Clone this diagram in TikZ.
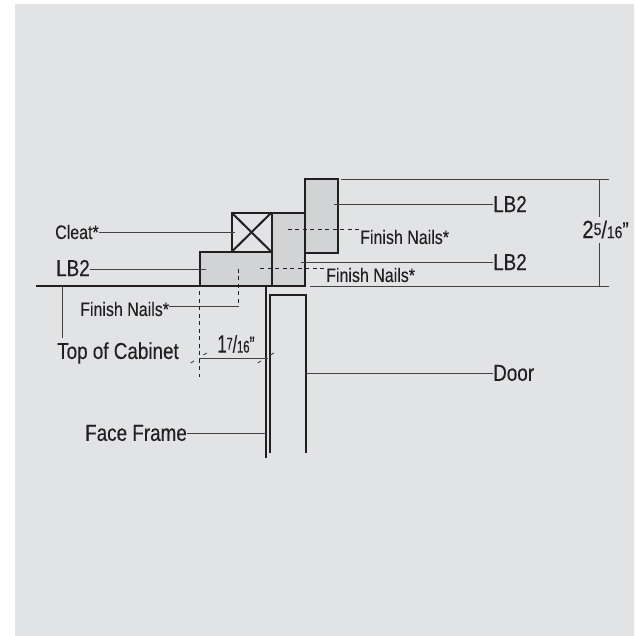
\documentclass[tikz,border=0pt]{standalone}
\usepackage{fontspec}
\setmainfont[FakeStretch=0.82,FakeBold=0.25]{Liberation Sans}
\usepackage{tikz}
\usetikzlibrary{arrows, calc, positioning}
\definecolor{panel}{HTML}{E2E3E5}
\definecolor{lumber}{HTML}{D2D3D5}
\definecolor{ink}{HTML}{231F20}
\tikzstyle{board} = [rectangle, line width=2pt, draw=ink, outer sep=0pt, inner sep=0pt]
\tikzstyle{leader} = [line width=0.9pt, draw=ink!85!white]
\tikzstyle{hidden} = [line width=0.9pt, draw=ink, dash pattern=on 4pt off 3.5pt]
\tikzstyle{heavy} = [line width=2pt, draw=ink]
\tikzstyle{big} = [inner sep=0pt, text=ink, font=\fontsize{23}{23}\selectfont]
\tikzstyle{small} = [inner sep=0pt, text=ink, font=\fontsize{19.5}{20}\selectfont]
\newcommand{\dimfrac}[3]{{\fontsize{25}{25}\selectfont #1}\raisebox{3pt}{\fontsize{17}{17}\selectfont #2}{\fontsize{24}{24}\selectfont /}{\fontsize{17}{17}\selectfont #3}"}

\begin{document}
\begin{tikzpicture}[x=1pt, y=-1pt]
		\useasboundingbox (0,0) rectangle (634,636);
		\fill [panel] (15,4) rectangle (634,636);
		% lumber
		\node (TopBoard) [board, fill=lumber, minimum width=33pt, minimum height=73pt, anchor=north west] at (304.5,179.5) {};
		\node (MidBoard) [board, fill=lumber, minimum width=33pt, minimum height=73.5pt, anchor=north west] at (271.5,212.5) {};
		\node (LowBoard) [board, fill=lumber, minimum width=72pt, minimum height=34pt, anchor=north west] at (199.5,252) {};
		\node (Cleat) [board, minimum width=40pt, minimum height=39.5pt, anchor=north west] at (231.5,212.5) {};
		\draw [heavy] (Cleat.north west) -- (Cleat.south east);
		\draw [heavy] (Cleat.north east) -- (Cleat.south west);
		% cabinet and door
		\coordinate (TopLeft) at (36,286);
		\coordinate (TopCorner) at (265.7,286);
		\coordinate (FrameEnd) at (265.7,458);
		\coordinate (DoorTopLeft) at (269.5,295);
		\coordinate (DoorTopRight) at (305.5,295);
		\coordinate (DoorEndLeft) at (269.5,453);
		\coordinate (DoorEndRight) at (305.5,453);
		\draw [heavy] (TopLeft) -- (TopCorner) -- (FrameEnd);
		\draw [heavy] (DoorEndLeft) -- (DoorTopLeft) -- (DoorTopRight) -- (DoorEndRight);
		% labels
		\node (CleatLabel) [small, anchor=west] at (55,232) {Cleat*};
		\node (LeftLB) [big, anchor=west] at (56,268) {LB2};
		\node (TopLB) [big, anchor=west] at (493,204) {LB2};
		\node (MidLB) [big, anchor=west] at (493,262) {LB2};
		\node (UpperNails) [small, anchor=west] at (360,237) {Finish Nails*};
		\node (MidNails) [small, anchor=west] at (326,275) {Finish Nails*};
		\node (LowNails) [small, anchor=west] at (80,309) {Finish Nails*};
		\node (CabinetLabel) [big, anchor=west] at (57,353) {Top of Cabinet};
		\node (FrameLabel) [big, anchor=west] at (85,433) {Face Frame};
		\node (DoorLabel) [big, anchor=west] at (493,373) {Door};
		\node (DimWide) [big, anchor=center] at (236,344) {\scalebox{0.8}[1]{\dimfrac{1}{7}{16}}};
		\node (DimTall) [big, anchor=center] at (605.5,229.5) {\dimfrac{2}{5}{16}};
		% leaders
		\coordinate (CleatEnd) at (234.5,232);
		\coordinate (LeftLBEnd) at (205.5,269.5);
		\coordinate (TopLBEnd) at (334,204);
		\coordinate (MidLBEnd) at (300.5,262);
		\coordinate (CabinetTop) at (62.7,286);
		\coordinate (CabinetEnd) at (62.7,338);
		\coordinate (FrameMark) at (265.7,433.5);
		\coordinate (DoorMark) at (305.5,373);
		\draw [leader] (CleatEnd -| CleatLabel.east) -- (CleatEnd);
		\draw [leader] (LeftLBEnd -| LeftLB.east) -- (LeftLBEnd);
		\draw [leader] (TopLBEnd -| TopLB.west) -- (TopLBEnd);
		\draw [leader] (MidLBEnd -| MidLB.west) -- (MidLBEnd);
		\draw [leader] (CabinetTop) -- (CabinetEnd);
		\draw [leader] (FrameMark -| FrameLabel.east) -- (FrameMark);
		\draw [leader] (DoorMark -| DoorLabel.west) -- (DoorMark);
		% nails
		\coordinate (UpperStart) at (287.5,229.5);
		\coordinate (UpperEnd) at (360,229.5);
		\coordinate (MidStart) at (260,268.5);
		\coordinate (MidEnd) at (325,268.5);
		\coordinate (LowStart) at (238.5,268.5);
		\coordinate (LowEnd) at (238.5,306.7);
		\draw [hidden] (UpperStart) -- (UpperEnd);
		\draw [hidden] (MidStart) -- (MidEnd);
		\draw [hidden] (LowStart) -- (LowEnd);
		\draw [leader] (LowEnd -| LowNails.east) -- (LowEnd);
		% dimensions
		\coordinate (WideLeft) at (199.3,358);
		\coordinate (WideRight) at (268,358);
		\draw [hidden] (199.3,291) -- (199.3,377);
		\draw [leader] (WideLeft) -- (WideRight);
		\draw [leader, dash pattern=on 4pt off 11pt on 4pt] (190.7,363) -- (206.7,353);
		\draw [leader, dash pattern=on 4pt off 11pt on 4pt] (257.7,363) -- (273.7,353);
		\coordinate (TallTop) at (599.3,179);
		\coordinate (TallBottom) at (599.3,286);
		\draw [leader] (341,179) -- (609,179);
		\draw [leader] (310,286) -- (609,286);
		\draw [leader] (TallTop) -- (599.3,216.5);
		\draw [leader] (599.3,243) -- (TallBottom);
		\end{tikzpicture}
\end{document}
